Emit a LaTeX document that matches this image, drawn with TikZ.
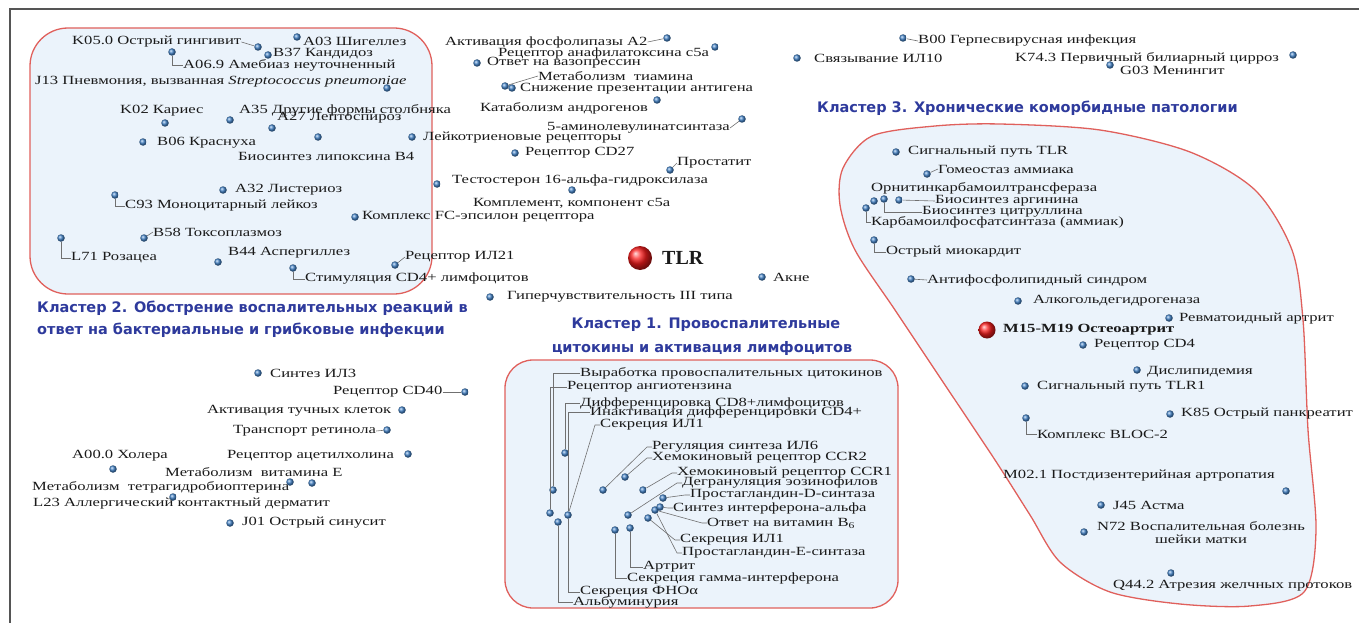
\documentclass[tikz,border=0pt]{standalone}
\usepackage{fontspec}
\setmainfont{Liberation Serif}[FakeStretch=1.33]
\newfontfamily\plainserif{Liberation Serif}
\newfontfamily\headsans{DejaVu Sans}
\usetikzlibrary{positioning}
\definecolor{ink}{HTML}{1A1A1A}
\definecolor{headblue}{HTML}{2E3A9C}
\definecolor{rim}{HTML}{E0605C}
\definecolor{pane}{HTML}{EBF3FB}
\definecolor{dotblue}{HTML}{4383C8}
\definecolor{hubred}{HTML}{FA1E1E}
\definecolor{leadgray}{HTML}{707070}
\definecolor{frame}{HTML}{555555}
\tikzset{
  every node/.style={font=\fontsize{12.5}{14}\selectfont,text=ink},
  lab/.style={anchor=west,inner sep=0pt},
  dot/.style={circle,inner sep=0pt,minimum size=7.5pt,shading=ball,ball color=dotblue},
  hub/.style={circle,inner sep=0pt,shading=ball,ball color=hubred},
  cluster/.style={draw=rim,fill=pane,line width=1.3pt},
  heading/.style={font=\headsans\bfseries\fontsize{14.5}{18}\selectfont,text=headblue,inner sep=0pt},
  leader/.style={draw=leadgray,line width=.6pt}
}

\begin{document}
\begin{tikzpicture}[x=1pt,y=-1pt]
  \useasboundingbox (0,0) rectangle (1359,623);
  \draw[frame,line width=1.6pt] (10,623) -- (10,9) -- (1359,9);

  % Cluster outlines.
  \draw[cluster,rounded corners=38] (30,28) rectangle (432,294);
  \draw[cluster,rounded corners=28] (505,360) rectangle (898,608);
  \draw[cluster] plot[smooth cycle,tension=.5] coordinates {
    (843,168) (872,136) (935,126) (1000,124) (1100,130) (1190,152) (1255,190)
    (1292,250) (1303,320) (1308,430) (1316,530) (1304,592) (1250,606) (1180,604)
    (1110,592) (1060,562) (1030,515) (995,460) (945,385) (895,310) (855,250) (840,205)};

  % Headings.
  \node[heading,anchor=west] (h2a) at (37,308) {Кластер 2. Обострение воспалительных реакций в};
  \node[heading,anchor=west] (h2b) at (37,330) {ответ на бактериальные и грибковые инфекции};
  \node[heading] (h1a) at (706,325) {Кластер 1. Провоспалительные};
  \node[heading] (h1b) at (702,348) {цитокины и активация лимфоцитов};
  \node[heading,anchor=west] (h3) at (817,108) {Кластер 3. Хронические коморбидные патологии};

  % Hubs.
  \node[hub,minimum size=24pt] (tlr) at (640,258) {};
  \node[lab,font=\plainserif\bfseries\fontsize{20}{22}\selectfont] (tlr-t) at (662,258) {TLR};
  \node[hub,minimum size=17pt] (oa) at (987,330) {};
  \node[lab,font=\bfseries\fontsize{12.5}{14}\selectfont] (oa-t) at (1003,330) {M15-M19 Остеоартрит};

  % Terms: name / dot x / dot y / label x / label y / text.
  \foreach \nm/\dx/\dy/\tx/\ty/\txt in {
    k05/258/47/72/42/{K05.0 Острый гингивит},
    b37/268/55/273/54/{B37 Кандидоз},
    a03/297/37/303/41/{A03 Шигеллез},
    a069/172/52/183/65/{A06.9 Амебиаз неуточненный},
    j13/387/88/35/82/{J13 Пневмония, вызванная \textit{Streptococcus pneumoniae}},
    k02/165/123/120/111/{K02 Кариес},
    a35/230/120/239/110/{A35 Другие формы столбняка},
    a27/272/128/277/118/{A27 Лептоспироз},
    b06/143/142/157/143/{B06 Краснуха},
    lipox/318/137/238/156/{Биосинтез липоксина B4},
    leuk/412/137/423/138/{Лейкотриеновые рецепторы},
    a32/223/190/235/190/{A32 Листериоз},
    c93/115/195/125/206/{C93 Моноцитарный лейкоз},
    fceps/355/217/362/217/{Комплекс FC-эпсилон рецептора},
    b58/144/238/153/232/{B58 Токсоплазмоз},
    l71/61/238/71/258/{L71 Розацеа},
    b44/218/262/228/253/{B44 Аспергиллез},
    cdstim/293/268/305/279/{Стимуляция CD4+ лимфоцитов},
    il21/395/265/405/257/{Рецептор ИЛ21},
    pla/667/38/445/42/{Активация фосфолипазы A2},
    cfar/715/47/498/53/{Рецептор анафилатоксина c5a},
    vaso/477/63/487/63/{Ответ на вазопрессин},
    thiam/505/86/538/76/{Метаболизм~ тиамина},
    antig/512/88/520/89/{Снижение презентации антигена},
    andr/657/100/480/108/{Катаболизм андрогенов},
    ala/742/119/547/128/{5-аминолевулинатсинтаза},
    cdtw/515/153/525/153/{Рецептор CD27},
    prost/670/170/677/163/{Простатит},
    testo/437/184/452/180/{Тестостерон 16-альфа-гидроксилаза},
    cfa/572/190/473/203/{Комплемент, компонент c5a},
    acne/762/277/773/277/{Акне},
    hyper/490/297/507/297/{Гиперчувствительность III типа},
    ilten/797/58/814/58/{Связывание ИЛ10},
    b00/903/38/918/41/{B00 Герпесвирусная инфекция},
    kpbc/1293/55/1015/58/{K74.3 Первичный билиарный цирроз},
    g03/1110/65/1120/70/{G03 Менингит},
    tlrp/896/152/908/152/{Сигнальный путь TLR},
    ammon/927/174/938/169/{Гомеостаз аммиака},
    ornit/874/201/871/188/{Орнитинкарбамоилтрансфераза},
    argin/899/200/935/201/{Биосинтез аргинина},
    citr/884/199/922/212/{Биосинтез цитруллина},
    carb/866/208/871/222/{Карбамоилфосфатсинтаза (аммиак)},
    myoc/874/240/886/252/{Острый миокардит},
    aphos/911/279/927/280/{Антифосфолипидный синдром},
    adh/1018/301/1033/301/{Алкогольдегидрогеназа},
    ra/1169/318/1179/319/{Ревматоидный артрит},
    cdfour/1083/345/1094/345/{Рецептор CD4},
    dysl/1137/370/1147/372/{Дислипидемия},
    tlrone/1025/386/1037/387/{Сигнальный путь TLR1},
    k85/1170/414/1181/414/{K85 Острый панкреатит},
    bloc/1026/418/1037/434/{Комплекс BLOC-2},
    mzero/1286/491/1003/476/{M02.1 Постдизентерийная артропатия},
    j45/1101/505/1113/505/{J45 Астма},
    q442/1171/573/1113/586/{Q44.2 Атрезия желчных протоков},
    ilthree/258/373/270/373/{Синтез ИЛ3},
    cdforty/465/392/333/392/{Рецептор CD40},
    mast/402/410/207/411/{Активация тучных клеток},
    retin/387/430/233/431/{Транспорт ретинола},
    ach/408/454/227/456/{Рецептор ацетилхолина},
    chol/113/469/72/456/{A00.0 Холера},
    vite/312/483/165/472/{Метаболизм~ витамина E},
    thb/290/482/32/487/{Метаболизм~ тетрагидробиоптерина},
    l23/173/497/33/504/{L23 Аллергический контактный дерматит},
    j01/230/523/242/523/{J01 Острый синусит}}
  {
    \node[lab] (\nm-t) at (\tx,\ty) {\txt};
    \node[dot] (\nm) at (\dx,\dy) {};
  }
  \node[dot] (nsvn) at (1084,532) {};
  \node[align=center,inner sep=0pt] (nsvn-t) at (1201,533)
    {N72 Воспалительная болезнь\\[-1pt]шейки матки};

  % Leaders outside cluster 1.
  \draw[leader] (k05-t.east) -- (k05);
  \draw[leader] (a069) |- (a069-t.west);
  \draw[leader] (c93) |- (c93-t.west);
  \draw[leader] (l71) |- (l71-t.west);
  \draw[leader] (b58) -- (b58-t.west);
  \draw[leader] (cdstim) |- (cdstim-t.west);
  \draw[leader] (il21) -- (il21-t.west);
  \draw[leader] (pla-t.east) -- (pla);
  \draw[leader] (thiam) -- (thiam-t.west);
  \draw[leader] (ala-t.east) -- (ala);
  \draw[leader] (prost) -- (prost-t.west);
  \draw[leader] (b00) -- (b00-t.west);
  \draw[leader] (cdforty-t.east) -- (cdforty);
  \draw[leader] (retin-t.east) -- (retin);
  \draw[leader] (ammon) -- (ammon-t.west);
  \draw[leader] (argin) -- (argin-t.west);
  \draw[leader] (citr) |- (citr-t.west);
  \draw[leader] (carb) |- (carb-t.west);
  \draw[leader] (myoc) |- (myoc-t.west);
  \draw[leader] (aphos) -- (aphos-t.west);
  \draw[leader] (bloc) |- (bloc-t.west);

  % Cluster 1: pro-inflammatory cytokines, dots then labels.
  \foreach \nm/\dx/\dy in {d1/565/453,d2/553/490,d3/550/513,d4/558/522,d5/568/515,
    d6/603/490,d7/625/477,d8/643/490,d9/628/515,d10/615/530,d11/630/528,
    d12/648/518,d13/655/510,d14/663/498,d15/660/507}
    \node[dot] (\nm) at (\dx,\dy) {};
  \foreach \nm/\tx/\ty/\txt in {
    ca/580/373/{Выработка провоспалительных цитокинов},
    cb/567/387/{Рецептор ангиотензина},
    cc/580/403/{Дифференцировка CD8+лимфоцитов},
    cd/590/412/{Инактивация дифференцировки CD4+},
    ce/600/425/{Секреция ИЛ1},
    cf/652/447/{Регуляция синтеза ИЛ6},
    cg/652/458/{Хемокиновый рецептор CCR2},
    ch/677/473/{Хемокиновый рецептор CCR1},
    ci/682/483/{Дегрануляция эозинофилов},
    cj/690/495/{Простагландин-D-синтаза},
    ck/673/508/{Синтез интерферона-альфа},
    cl/707/523/{Ответ на витамин B\textsubscript{6}},
    cm/680/540/{Секреция ИЛ1},
    cn/682/553/{Простагландин-E-синтаза},
    co/643/567/{Артрит},
    cp/627/578/{Секреция гамма-интерферона},
    cq/580/592/{Секреция ФНОα},
    cr/573/602/{Альбуминурия}}
    \node[lab] (\nm) at (\tx,\ty) {\txt};
  \foreach \a/\b in {d2/ca,d3/cb,d1/cc,d5/cd,d11/co,d10/cp,d5/cq,d4/cr}
    \draw[leader] (\a) |- (\b.west);
  \foreach \a/\b in {d5/ce,d6/cf,d7/cg,d8/ch,d9/ci,d14/cj,d15/ck,d13/cl,d12/cm,d13/cn}
    \draw[leader] (\b.west) -- ++(-5,0) -- (\a);
\end{tikzpicture}
\end{document}
